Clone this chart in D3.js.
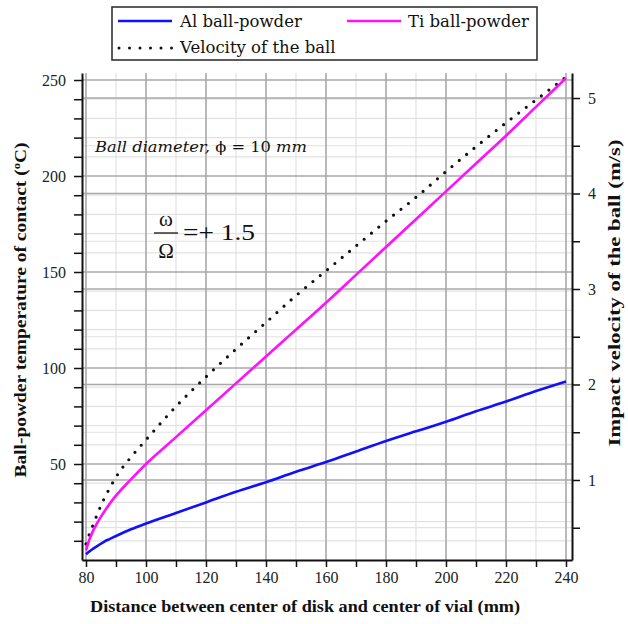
<!DOCTYPE html>
<html>
<head>
<meta charset="utf-8">
<script src="https://cdn.jsdelivr.net/npm/d3@7"></script>
<style>
body { margin: 0; background: #fff; }
svg { display: block; }
</style>
</head>
<body>
<svg id="chart" width="628" height="624"></svg>
<script>
// distance between disk centre and vial centre (mm)
var distance = [80, 81, 82, 84, 86, 88, 90, 95, 100, 110, 120, 130, 140, 150, 160, 170, 180, 190, 200, 210, 220, 230, 240];
// ball-powder contact temperature (C)
var tempAl = [3, 4.3, 5.5, 7.5, 9.5, 11, 12.5, 16, 19, 24.5, 30, 35.5, 40.5, 46, 51, 56.5, 62, 67, 72, 77.5, 82.5, 88, 93];
var tempTi = [5, 10, 14, 20, 25, 29.5, 33.5, 42, 50, 64, 78, 92, 106, 120, 134, 148.5, 163, 177.5, 192, 206.5, 221, 236, 251];
// impact velocity of the ball (m/s)
var velocity = [0.33, 0.42, 0.50, 0.66, 0.80, 0.92, 1.03, 1.24, 1.42, 1.77, 2.08, 2.37, 2.65, 2.93, 3.19, 3.45, 3.71, 3.96, 4.23, 4.49, 4.74, 4.98, 5.22];

var xTicks = d3.range(80, 241, 10);
var leftTicks = d3.range(10, 251, 10);
var rightTicks = d3.range(0.5, 5.01, 0.5);

var SERIF = '"Liberation Serif", "Times New Roman", serif';
var SLAB = '"DejaVu Serif", serif';

var svg = d3.select('#chart');

var pLeft = 82, pRight = 572, pTop = 73, pBottom = 560;

var x = d3.scaleLinear().domain([78.67, 242]).range([pLeft, pRight]);
var yL = d3.scaleLinear().domain([0, 253.65]).range([pBottom, pTop]);
var yR = d3.scaleLinear().domain([0.162, 5.262]).range([pBottom, pTop]);

// grid, light ones first
var grid = svg.append('g');
function hline(v, sc, col, w) {
    grid.append('line')
        .attr('x1', pLeft).attr('x2', pRight)
        .attr('y1', sc(v)).attr('y2', sc(v))
        .attr('stroke', col).attr('stroke-width', w);
}
function vline(v, col, w) {
    grid.append('line')
        .attr('x1', x(v)).attr('x2', x(v))
        .attr('y1', pTop).attr('y2', pBottom)
        .attr('stroke', col).attr('stroke-width', w);
}
leftTicks.forEach(function (v) { if (v % 50 !== 0) hline(v, yL, '#e2e2e2', 1.2); });
rightTicks.forEach(function (v) { if (v % 1 !== 0) hline(v, yR, '#e2e2e2', 1.2); });
xTicks.forEach(function (v) { if (v % 20 !== 0) vline(v, '#e2e2e2', 1.2); });
leftTicks.forEach(function (v) { if (v % 50 === 0) hline(v, yL, '#a8a8a8', 1.6); });
rightTicks.forEach(function (v) { if (v % 1 === 0) hline(v, yR, '#a8a8a8', 1.6); });
xTicks.forEach(function (v) { if (v % 20 === 0) vline(v, '#a8a8a8', 1.6); });

// axes
function styleAxis(g) {
    g.selectAll('path').attr('stroke', '#111').attr('stroke-width', 2);
    g.selectAll('line').attr('stroke', '#111').attr('stroke-width', 1.5);
    g.selectAll('text').style('font-family', SERIF)
        .style('font-size', '16px').attr('fill', '#222');
}

var gx = svg.append('g').attr('transform', 'translate(0,' + pBottom + ')')
    .call(d3.axisBottom(x).tickValues(xTicks).tickSize(7).tickSizeOuter(0).tickPadding(5)
        .tickFormat(function (d) { return d % 20 === 0 ? d : ''; }));
styleAxis(gx);

var gl = svg.append('g').attr('transform', 'translate(' + pLeft + ',0)')
    .call(d3.axisLeft(yL).tickValues(leftTicks).tickSize(8).tickSizeOuter(0).tickPadding(8)
        .tickFormat(function (d) { return d % 50 === 0 ? d : ''; }));
styleAxis(gl);

var gr = svg.append('g').attr('transform', 'translate(' + pRight + ',0)')
    .call(d3.axisRight(yR).tickValues(rightTicks).tickSize(8).tickSizeOuter(0).tickPadding(8)
        .tickFormat(function (d) { return d % 1 === 0 ? d : ''; }));
styleAxis(gr);

// series
var pts = distance.map(function (d, i) {
    return { d: d, al: tempAl[i], ti: tempTi[i], v: velocity[i] };
});

svg.append('path').datum(pts)
    .attr('fill', 'none').attr('stroke', '#111').attr('stroke-width', 3.2)
    .attr('stroke-linecap', 'round').attr('stroke-dasharray', '0,9.5')
    .attr('d', d3.line().curve(d3.curveMonotoneX)
        .x(function (p) { return x(p.d); }).y(function (p) { return yR(p.v); }));

svg.append('path').datum(pts)
    .attr('fill', 'none').attr('stroke', '#1010ff').attr('stroke-width', 2.6)
    .attr('d', d3.line().curve(d3.curveMonotoneX)
        .x(function (p) { return x(p.d); }).y(function (p) { return yL(p.al); }));

svg.append('path').datum(pts)
    .attr('fill', 'none').attr('stroke', '#ff10ff').attr('stroke-width', 2.6)
    .attr('d', d3.line().curve(d3.curveMonotoneX)
        .x(function (p) { return x(p.d); }).y(function (p) { return yL(p.ti); }));

// text helper
function txt(parent, fam, size) {
    return parent.append('text').style('font-family', fam).style('font-size', size + 'px').attr('fill', '#111');
}

// axis titles, stretched to the reference widths
txt(svg, SERIF, 17).attr('x', 305).attr('y', 612).attr('text-anchor', 'middle')
    .style('font-weight', 'bold')
    .attr('textLength', 430).attr('lengthAdjust', 'spacingAndGlyphs')
    .text('Distance between center of disk and center of vial (mm)');

var lt = txt(svg, SERIF, 17).attr('transform', 'translate(26,310) rotate(-90)')
    .attr('text-anchor', 'middle').style('font-weight', 'bold')
    .attr('textLength', 335).attr('lengthAdjust', 'spacingAndGlyphs');
lt.append('tspan').text('Ball-powder temperature of contact (');
lt.append('tspan').style('font-size', '11px').attr('dy', -6).text('o');
lt.append('tspan').attr('dy', 6).text('C)');

txt(svg, SERIF, 17).attr('transform', 'translate(620,293) rotate(-90)')
    .attr('text-anchor', 'middle').style('font-weight', 'bold')
    .attr('textLength', 307).attr('lengthAdjust', 'spacingAndGlyphs')
    .text('Impact velocity of the ball (m/s)');

// annotations
var ann = txt(svg, SLAB, 15).attr('x', 95).attr('y', 152)
    .attr('textLength', 212).attr('lengthAdjust', 'spacingAndGlyphs');
ann.append('tspan').style('font-style', 'italic').text('Ball diameter, ');
ann.append('tspan').text('\u03d5 = 10 ');
ann.append('tspan').style('font-style', 'italic').text('mm');

txt(svg, SERIF, 21).attr('x', 166).attr('y', 226).attr('text-anchor', 'middle').text('\u03c9');
svg.append('line').attr('x1', 154).attr('x2', 178).attr('y1', 233).attr('y2', 233)
    .attr('stroke', '#111').attr('stroke-width', 1.3);
txt(svg, SERIF, 21).attr('x', 166).attr('y', 258).attr('text-anchor', 'middle').text('\u03a9');
txt(svg, SERIF, 23).attr('x', 183).attr('y', 240)
    .attr('textLength', 72).attr('lengthAdjust', 'spacingAndGlyphs').text('=+ 1.5');

// legend
var lg = svg.append('g');
lg.append('rect').attr('x', 112).attr('y', 7).attr('width', 425).attr('height', 53)
    .attr('fill', '#fff').attr('stroke', '#333').attr('stroke-width', 1.6);
lg.append('line').attr('x1', 118).attr('x2', 172).attr('y1', 21).attr('y2', 21)
    .attr('stroke', '#1010ff').attr('stroke-width', 2.6);
lg.append('line').attr('x1', 347).attr('x2', 401).attr('y1', 21).attr('y2', 21)
    .attr('stroke', '#ff10ff').attr('stroke-width', 2.6);
lg.append('line').attr('x1', 119).attr('x2', 172).attr('y1', 48).attr('y2', 48)
    .attr('stroke', '#111').attr('stroke-width', 3).attr('stroke-linecap', 'round')
    .attr('stroke-dasharray', '0,10.5');
var legendText = [['Al ball-powder', 180, 27], ['Ti ball-powder', 408, 27], ['Velocity of the ball', 180, 53]];
legendText.forEach(function (t) {
    txt(lg, SLAB, 16.5).attr('x', t[1]).attr('y', t[2]).text(t[0]);
});
</script>
</body>
</html>
